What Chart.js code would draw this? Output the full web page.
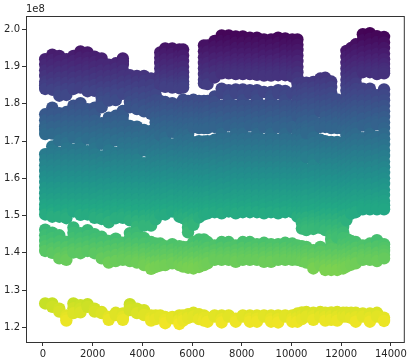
<!DOCTYPE html>
<html>
<head>
<meta charset="utf-8">
<style>body{margin:0;background:#fff}canvas{display:block}</style>
<script src="https://cdn.jsdelivr.net/npm/chart.js@4/dist/chart.umd.min.js"></script>
</head>
<body>
<canvas id="scatterChart" width="410" height="362"></canvas>
<script>
// tick labels
const xTicks = [0, 2000, 4000, 6000, 8000, 10000, 12000, 14000];
const yTicks = [1200, 1300, 1400, 1500, 1600, 1700, 1800, 1900, 2000];

// viridis colour stops
const viridis = ['#440154', '#482475', '#414487', '#355f8d', '#2a788e', '#21918c', '#22a884', '#44bf70', '#7ad151', '#bddf26', '#fde725'];

// x of each column of points
const xCols = [92, 376, 660, 944, 1228, 1512, 1796, 2080, 2364, 2648, 2932, 3216, 3500, 3784, 4068, 4352, 4536, 4720, 4920, 5204, 5488, 5640, 5840, 6056, 6280, 6480, 6624, 6908, 7192, 7476, 7760, 8044, 8328, 8612, 8896, 9180, 9464, 9748, 10032, 10240, 10420, 10600, 10880, 11160, 11360, 11600, 11840, 12080, 12212, 12400, 12588, 12872, 13156, 13440, 13724];

// y values read per column, in units of 1e5
const c00 = [1920,1905,1890,1875,1860,1850,1840,1772,1756,1740,1730,1719,1665,1650,1635,1620,1605,1590,1575,1560,1545,1530,1517,1503,1462,1447,1432,1418,1405,1264];
const c01 = [1932,1918,1905,1888,1870,1854,1838,1790,1772,1755,1738,1720,1686,1675,1665,1650,1635,1620,1605,1590,1575,1560,1545,1530,1515,1506,1497,1454,1440,1425,1412,1400,1264,1255];
const c02 = [1929,1915,1900,1885,1870,1857,1845,1833,1822,1775,1758,1740,1721,1702,1668,1659,1650,1635,1620,1605,1590,1575,1560,1545,1530,1514,1497,1447,1431,1415,1400,1385,1250,1242];
const c03 = [1920,1905,1890,1873,1857,1840,1824,1778,1766,1755,1740,1725,1710,1695,1680,1665,1650,1635,1620,1605,1590,1575,1560,1545,1530,1515,1504,1493,1429,1415,1400,1390,1381,1232,1225,1218];
const c04 = [1929,1915,1900,1885,1870,1855,1840,1795,1782,1770,1755,1740,1725,1711,1677,1663,1650,1635,1620,1605,1590,1575,1560,1545,1530,1520,1511,1468,1454,1440,1425,1410,1401,1264,1251,1238];
const c05 = [1941,1925,1910,1892,1875,1860,1844,1802,1793,1785,1770,1755,1740,1725,1710,1695,1680,1665,1650,1635,1620,1605,1590,1575,1560,1545,1530,1515,1502,1453,1439,1425,1412,1399,1259,1250,1240];
const c06 = [1938,1924,1910,1900,1890,1875,1860,1847,1834,1786,1778,1770,1755,1740,1723,1707,1673,1661,1650,1635,1620,1605,1590,1575,1560,1545,1530,1516,1503,1461,1445,1430,1417,1405,1262,1255];
const c07 = [1927,1913,1900,1883,1867,1851,1835,1790,1772,1755,1740,1725,1710,1695,1680,1665,1650,1635,1620,1605,1590,1575,1560,1545,1530,1515,1504,1494,1450,1437,1425,1412,1399,1250,1242];
const c08 = [1922,1906,1890,1875,1860,1845,1830,1817,1805,1791,1748,1734,1720,1706,1693,1659,1644,1630,1615,1600,1585,1570,1555,1540,1527,1515,1503,1491,1443,1429,1415,1400,1385,1241,1238];
const c09 = [1905,1890,1875,1860,1845,1830,1815,1809,1763,1749,1735,1720,1705,1690,1675,1660,1645,1630,1615,1600,1585,1570,1555,1540,1525,1512,1500,1482,1432,1418,1405,1390,1374,1228,1220];
const c10 = [1909,1895,1880,1865,1850,1837,1825,1810,1768,1754,1740,1721,1702,1668,1659,1650,1635,1620,1605,1590,1575,1560,1545,1530,1520,1510,1493,1438,1424,1410,1394,1378,1239,1233];
const c11 = [1922,1913,1905,1890,1875,1860,1845,1827,1781,1768,1755,1740,1725,1710,1695,1680,1665,1650,1635,1620,1605,1590,1575,1560,1545,1530,1515,1504,1494,1427,1413,1400,1390,1381,1237,1228,1220];
const c12 = [1877,1863,1850,1835,1820,1805,1791,1741,1725,1710,1695,1680,1665,1650,1635,1620,1605,1590,1575,1560,1545,1530,1520,1510,1498,1487,1453,1439,1425,1412,1400,1389,1378,1262,1254,1246];
const c13 = [1875,1860,1845,1830,1815,1800,1786,1739,1725,1710,1695,1680,1665,1650,1635,1620,1605,1590,1575,1560,1545,1530,1515,1500,1485,1470,1455,1440,1425,1410,1400,1390,1382,1374,1250,1238];
const c14 = [1875,1862,1850,1832,1815,1797,1780,1730,1715,1700,1687,1675,1641,1630,1620,1605,1590,1575,1560,1545,1530,1515,1500,1486,1473,1440,1425,1410,1397,1385,1376,1367,1246,1233];
const c15 = [1868,1851,1835,1820,1805,1789,1773,1727,1711,1695,1680,1665,1650,1635,1620,1605,1590,1575,1560,1545,1530,1515,1502,1490,1473,1429,1414,1400,1387,1375,1366,1357,1232,1225,1218];
const c16 = [1840,1825,1810,1795,1780,1765,1750,1735,1720,1705,1690,1675,1660,1645,1630,1615,1600,1585,1570,1555,1540,1525,1510,1500,1490,1425,1410,1395,1378,1362,1232,1222];
const c17 = [1938,1924,1910,1895,1880,1866,1853,1808,1794,1780,1765,1750,1733,1716,1682,1666,1650,1635,1620,1605,1590,1575,1560,1545,1530,1516,1503,1425,1410,1395,1380,1366,1232,1229];
const c18 = [1949,1935,1920,1905,1890,1877,1865,1855,1846,1805,1795,1785,1770,1755,1740,1725,1710,1695,1680,1665,1650,1635,1620,1605,1590,1575,1560,1545,1530,1515,1503,1418,1406,1395,1381,1367,1228,1220,1211];
const c19 = [1949,1935,1920,1905,1890,1875,1860,1852,1844,1802,1786,1770,1755,1740,1725,1691,1675,1660,1645,1630,1615,1600,1585,1570,1555,1540,1525,1511,1423,1409,1395,1383,1372,1228,1224];
const c20 = [1946,1930,1915,1900,1885,1872,1860,1851,1842,1799,1785,1770,1755,1740,1725,1710,1695,1680,1665,1650,1635,1620,1605,1590,1575,1560,1545,1532,1520,1508,1497,1418,1406,1395,1381,1367,1232,1220,1209];
const c21 = [1946,1930,1915,1900,1885,1872,1860,1852,1844,1811,1795,1780,1765,1750,1735,1720,1705,1690,1675,1660,1645,1630,1615,1600,1585,1570,1555,1540,1527,1515,1504,1493,1416,1403,1390,1377,1363,1232,1225,1218];
const c22 = [1808,1793,1778,1763,1748,1733,1718,1703,1688,1673,1658,1643,1628,1613,1598,1583,1568,1553,1538,1524,1510,1495,1480,1467,1455,1416,1403,1390,1375,1360,1235,1225];
const c23 = [1811,1795,1780,1765,1750,1737,1697,1683,1670,1655,1640,1625,1610,1595,1580,1565,1550,1535,1520,1505,1490,1482,1475,1429,1414,1400,1387,1375,1366,1358,1239,1229];
const c24 = [1808,1793,1778,1764,1750,1735,1700,1685,1670,1655,1640,1625,1610,1595,1580,1565,1550,1535,1520,1507,1495,1436,1420,1405,1390,1375,1362,1235,1222];
const c25 = [1957,1941,1925,1910,1895,1880,1865,1855,1808,1793,1778,1763,1748,1735,1699,1684,1670,1655,1640,1625,1610,1595,1580,1565,1550,1537,1525,1514,1503,1436,1420,1405,1395,1385,1376,1367,1232,1225,1218];
const c26 = [1957,1941,1925,1910,1895,1882,1870,1853,1808,1794,1780,1765,1750,1735,1700,1685,1670,1655,1640,1625,1610,1595,1580,1565,1550,1537,1525,1515,1506,1429,1414,1400,1386,1372,1226,1215];
const c27 = [1969,1954,1940,1922,1905,1888,1871,1820,1805,1790,1775,1760,1749,1738,1704,1692,1680,1665,1650,1635,1620,1605,1590,1575,1560,1545,1530,1519,1509,1420,1407,1395,1388,1381,1232,1229];
const c28 = [1984,1969,1955,1940,1925,1912,1900,1891,1882,1841,1829,1795,1780,1765,1750,1735,1720,1705,1690,1675,1660,1645,1630,1615,1600,1585,1570,1555,1542,1530,1518,1506,1429,1414,1400,1390,1381,1232,1222,1213];
const c29 = [1984,1969,1955,1940,1925,1912,1900,1891,1882,1837,1823,1810,1795,1780,1761,1742,1708,1694,1680,1665,1650,1635,1620,1605,1590,1575,1560,1545,1530,1520,1511,1429,1414,1400,1390,1381,1232,1229];
const c30 = [1981,1965,1950,1935,1920,1907,1895,1887,1880,1839,1829,1795,1780,1765,1750,1735,1720,1705,1690,1675,1660,1645,1630,1615,1600,1585,1570,1555,1542,1530,1518,1506,1420,1407,1395,1385,1376,1223,1215];
const c31 = [1981,1965,1950,1935,1920,1907,1895,1887,1880,1839,1825,1810,1795,1780,1765,1750,1735,1720,1705,1690,1675,1660,1645,1630,1615,1600,1585,1570,1555,1540,1524,1509,1429,1414,1400,1390,1381,1232,1229];
const c32 = [1978,1964,1950,1935,1920,1907,1895,1887,1880,1837,1829,1795,1782,1770,1756,1742,1708,1692,1675,1660,1645,1630,1615,1600,1585,1570,1555,1542,1530,1519,1509,1429,1414,1400,1390,1381,1232,1223,1215];
const c33 = [1978,1964,1950,1935,1920,1907,1895,1886,1878,1837,1823,1810,1795,1780,1765,1750,1735,1720,1705,1690,1675,1660,1645,1630,1615,1600,1585,1570,1555,1540,1524,1509,1423,1411,1400,1390,1381,1232,1223,1215];
const c34 = [1973,1959,1945,1930,1915,1905,1895,1885,1876,1832,1795,1782,1770,1754,1738,1704,1689,1675,1660,1645,1630,1615,1600,1585,1570,1555,1542,1530,1518,1506,1427,1413,1400,1388,1376,1232,1229];
const c35 = [1973,1959,1945,1930,1915,1905,1895,1885,1876,1832,1821,1810,1795,1780,1765,1750,1735,1720,1705,1690,1675,1660,1645,1630,1615,1600,1585,1570,1555,1540,1524,1509,1423,1411,1400,1388,1376,1232,1223,1215];
const c36 = [1978,1964,1950,1935,1920,1907,1895,1886,1877,1837,1829,1795,1782,1770,1754,1738,1704,1689,1675,1660,1645,1630,1615,1600,1585,1570,1555,1542,1530,1518,1506,1423,1411,1400,1390,1381,1232,1222,1213];
const c37 = [1976,1960,1945,1930,1915,1905,1895,1886,1877,1835,1822,1810,1795,1780,1765,1750,1735,1720,1705,1690,1675,1660,1645,1630,1615,1600,1585,1570,1555,1540,1524,1509,1427,1413,1400,1390,1381,1232,1229];
const c38 = [1973,1959,1945,1930,1915,1902,1890,1881,1873,1828,1795,1782,1770,1754,1738,1704,1689,1675,1660,1645,1630,1615,1600,1585,1570,1555,1542,1530,1519,1509,1425,1412,1400,1390,1381,1232,1223,1215];
const c39 = [1973,1959,1945,1930,1915,1900,1885,1870,1855,1840,1825,1810,1795,1781,1768,1734,1719,1705,1690,1675,1660,1645,1630,1615,1600,1585,1570,1555,1540,1525,1511,1497,1420,1407,1395,1388,1381,1237,1226,1215];
const c40 = [1857,1841,1825,1810,1795,1780,1765,1750,1735,1720,1705,1690,1675,1660,1645,1630,1615,1600,1585,1570,1555,1540,1525,1510,1495,1480,1465,1418,1406,1395,1386,1378,1240,1231,1222];
const c41 = [1857,1843,1830,1815,1800,1785,1770,1755,1740,1731,1722,1688,1672,1657,1623,1611,1600,1585,1570,1555,1540,1525,1510,1495,1480,1470,1461,1416,1405,1395,1384,1374,1241,1229];
const c42 = [1859,1844,1830,1815,1800,1785,1770,1755,1740,1725,1710,1695,1680,1665,1650,1635,1620,1605,1590,1575,1560,1545,1530,1515,1500,1490,1480,1472,1464,1407,1396,1385,1371,1358,1239,1230,1220];
const c43 = [1868,1854,1840,1825,1810,1795,1781,1747,1738,1704,1690,1675,1666,1657,1623,1611,1600,1585,1570,1555,1540,1525,1510,1497,1485,1476,1467,1416,1403,1390,1378,1367,1241,1229];
const c44 = [1870,1855,1840,1825,1810,1795,1780,1765,1750,1738,1700,1685,1670,1655,1640,1625,1610,1595,1580,1565,1550,1535,1520,1505,1490,1475,1461,1402,1391,1380,1367,1354,1239,1228,1218];
const c45 = [1860,1845,1830,1815,1800,1785,1770,1755,1740,1735,1698,1684,1670,1655,1640,1625,1610,1595,1580,1565,1550,1535,1520,1505,1490,1475,1460,1447,1435,1422,1410,1395,1380,1367,1354,1240,1230,1220];
const c46 = [1812,1796,1780,1765,1750,1735,1698,1684,1670,1655,1640,1625,1610,1595,1580,1565,1550,1535,1520,1505,1490,1475,1460,1451,1442,1408,1394,1380,1367,1354,1241,1229,1218];
const c47 = [1808,1794,1780,1765,1750,1732,1695,1680,1665,1650,1635,1620,1605,1590,1575,1560,1545,1530,1515,1500,1485,1470,1455,1440,1425,1410,1395,1385,1375,1366,1358,1239,1229];
const c48 = [1942,1926,1910,1895,1880,1865,1850,1835,1820,1805,1790,1775,1760,1745,1730,1715,1700,1685,1670,1655,1640,1625,1610,1595,1580,1565,1550,1535,1520,1504,1488,1438,1424,1410,1397,1385,1374,1363,1239,1229];
const c49 = [1950,1935,1920,1905,1890,1875,1860,1845,1830,1815,1800,1785,1770,1755,1740,1725,1710,1695,1680,1665,1650,1635,1620,1605,1590,1575,1560,1545,1530,1517,1505,1432,1418,1405,1392,1380,1374,1368,1239,1225];
const c50 = [1960,1945,1930,1915,1900,1885,1870,1855,1840,1825,1810,1795,1780,1765,1750,1735,1720,1705,1690,1675,1660,1645,1630,1615,1600,1585,1570,1555,1540,1524,1509,1429,1414,1400,1386,1372,1239,1227,1215];
const c51 = [1987,1971,1955,1940,1925,1912,1900,1892,1885,1841,1825,1810,1795,1780,1761,1742,1708,1691,1675,1660,1645,1630,1615,1600,1585,1570,1555,1542,1530,1523,1517,1420,1407,1395,1388,1381,1237,1229];
const c52 = [1990,1975,1960,1945,1930,1917,1905,1895,1885,1841,1825,1810,1795,1780,1765,1750,1735,1720,1705,1690,1675,1660,1645,1630,1615,1600,1585,1570,1555,1540,1528,1517,1425,1412,1400,1390,1381,1237,1226,1215];
const c53 = [1982,1966,1950,1935,1920,1907,1895,1887,1880,1823,1806,1790,1775,1760,1752,1745,1711,1695,1680,1665,1650,1635,1620,1605,1590,1575,1560,1547,1535,1526,1517,1434,1417,1400,1389,1378,1239,1229];
const c54 = [1980,1965,1950,1935,1920,1907,1895,1888,1882,1839,1824,1810,1795,1780,1765,1750,1735,1720,1705,1690,1675,1660,1645,1630,1615,1600,1585,1570,1555,1540,1528,1517,1423,1414,1405,1395,1385,1226,1217];

const yCols = [c00,c01,c02,c03,c04,c05,c06,c07,c08,c09,c10,c11,c12,c13,c14,c15,c16,c17,c18,c19,c20,c21,c22,c23,c24,c25,c26,c27,c28,c29,c30,c31,c32,c33,c34,c35,c36,c37,c38,c39,c40,c41,c42,c43,c44,c45,c46,c47,c48,c49,c50,c51,c52,c53,c54];

const points = [];
yCols.forEach((col, i) => col.forEach(y => points.push({x: xCols[i], y: y})));

// colour follows the y value, dark at the top and yellow at the bottom
function colorFor(y) {
    const t = Math.min(1, Math.max(0, (1995 - y) / 800)) * (viridis.length - 1);
    const i = Math.min(viridis.length - 2, Math.floor(t));
    const a = parseInt(viridis[i].slice(1), 16), b = parseInt(viridis[i + 1].slice(1), 16);
    const f = t - i;
    const mix = s => Math.round(((a >> s) & 255) * (1 - f) + ((b >> s) & 255) * f);
    return `rgb(${mix(16)},${mix(8)},${mix(0)})`;
}

// axes frame and the offset text above the y axis
const framePlugin = {
    id: 'frame',
    afterDraw(chart) {
        const a = chart.chartArea, c = chart.ctx;
        c.save();
        c.strokeStyle = '#333';
        c.lineWidth = 1;
        c.strokeRect(a.left + 0.5, a.top + 0.5, a.right - a.left, a.bottom - a.top);
        c.fillStyle = '#262626';
        c.font = '10px "DejaVu Sans"';
        c.fillText('1e8', a.left, a.top - 4);
        c.restore();
    }
};

const ctx = document.getElementById('scatterChart').getContext('2d');
new Chart(ctx, {
    type: 'scatter',
    data: {
        datasets: [{
            data: points,
            pointRadius: 6.2,
            pointBorderWidth: 0,
            pointBackgroundColor: c => c.raw ? colorFor(c.raw.y) : '#000'
        }]
    },
    plugins: [framePlugin],
    options: {
        responsive: false,
        animation: false,
        events: [],
        layout: {padding: {top: 16, right: 4, left: 0, bottom: 0}},
        plugins: {legend: {display: false}, tooltip: {enabled: false}},
        scales: {
            x: {
                min: -680,
                max: 14520,
                afterFit: s => { s.height = 20; },
                afterBuildTicks: s => { s.ticks = xTicks.map(v => ({value: v})); },
                border: {display: false},
                grid: {drawOnChartArea: false, tickLength: 4, tickColor: '#333'},
                ticks: {autoSkip: false, maxRotation: 0, padding: 2, color: '#262626', font: {family: 'DejaVu Sans', size: 10}, callback: v => String(v)}
            },
            y: {
                min: 1160.5,
                max: 2036,
                afterFit: s => { s.width = 26; },
                afterBuildTicks: s => { s.ticks = yTicks.map(v => ({value: v})); },
                border: {display: false},
                grid: {drawOnChartArea: false, tickLength: 4, tickColor: '#333'},
                ticks: {autoSkip: false, padding: 2, color: '#262626', font: {family: 'DejaVu Sans', size: 10}, callback: v => (v / 1000).toFixed(1)}
            }
        }
    }
});
</script>
</body>
</html>
